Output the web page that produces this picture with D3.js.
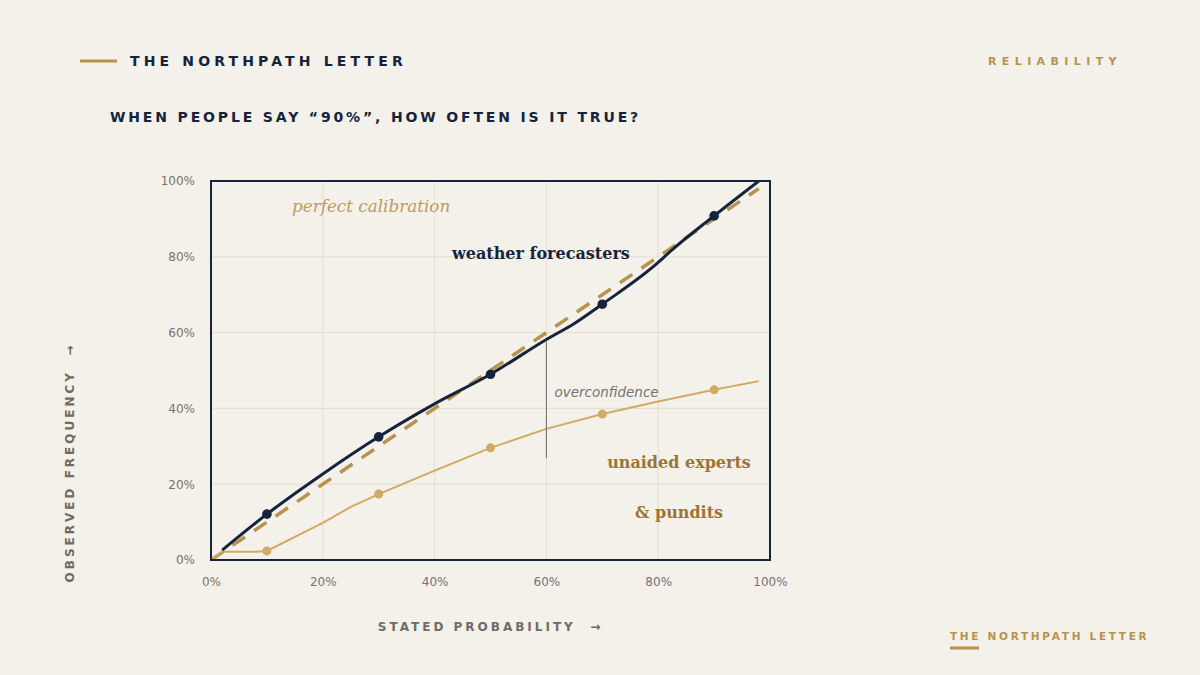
<!DOCTYPE html>
<html>
<head>
<meta charset="utf-8">
<script src="https://cdn.jsdelivr.net/npm/d3@7"></script>
<style>
  html, body { margin: 0; padding: 0; background: #f4f0ea; }
  svg { display: block; }
</style>
</head>
<body>
<svg id="chart"></svg>
<script>
const width = 1200;
const height = 675;

// stated probability (x) and observed frequency (y)
const weatherX = [0.02, 0.1, 0.2, 0.3, 0.37, 0.4, 0.5, 0.6, 0.65, 0.7, 0.8, 0.82, 0.9, 0.98];
const weatherY = [0.026, 0.121, 0.227, 0.325, 0.387, 0.412, 0.49, 0.582, 0.624, 0.675, 0.785, 0.812, 0.908, 1.0];
const expertsX = [0, 0.02, 0.08, 0.1, 0.2, 0.25, 0.3, 0.4, 0.5, 0.6, 0.7, 0.8, 0.9, 0.98];
const expertsY = [0, 0.022, 0.022, 0.024, 0.098, 0.14, 0.174, 0.236, 0.296, 0.346, 0.385, 0.418, 0.449, 0.472];
const markerX = [0.1, 0.3, 0.5, 0.7, 0.9];
const diagonal = [0, 0.98];
const ticks = [0, 0.2, 0.4, 0.6, 0.8, 1];
const gap = { x: 0.6, top: 0.576, bottom: 0.269 };

const margin = { top: 181, right: 430, bottom: 115, left: 211 };
const w = width - margin.left - margin.right;
const h = height - margin.top - margin.bottom;

const navy = '#15243c';
const gold = '#b8924f';
const sand = '#d2aa66';
const grey = '#777370';

const svg = d3.select('#chart')
    .attr('width', width)
    .attr('height', height);

svg.append('rect').attr('width', width).attr('height', height).attr('fill', '#f4f0ea');

// header
svg.append('line')
    .attr('x1', 80).attr('x2', 117).attr('y1', 61).attr('y2', 61)
    .attr('stroke', gold).attr('stroke-width', 3);
svg.append('text')
    .attr('x', 130).attr('y', 66)
    .attr('font-family', 'DejaVu Sans').attr('font-weight', 'bold')
    .attr('font-size', 14).attr('letter-spacing', 4.15)
    .attr('fill', navy)
    .text('THE NORTHPATH LETTER');
svg.append('text')
    .attr('x', 1122).attr('y', 65)
    .attr('text-anchor', 'end')
    .attr('font-family', 'DejaVu Sans').attr('font-weight', 'bold')
    .attr('font-size', 11).attr('letter-spacing', 5.4)
    .attr('fill', gold)
    .text('RELIABILITY');
svg.append('text')
    .attr('x', 110).attr('y', 122)
    .attr('font-family', 'DejaVu Sans').attr('font-weight', 'bold')
    .attr('font-size', 14).attr('letter-spacing', 2.85)
    .attr('fill', navy)
    .text('WHEN PEOPLE SAY \u201C90%\u201D, HOW OFTEN IS IT TRUE?');

// footer
svg.append('text')
    .attr('x', 950).attr('y', 640)
    .attr('font-family', 'DejaVu Sans').attr('font-weight', 'bold')
    .attr('font-size', 10.5).attr('letter-spacing', 2.7)
    .attr('fill', gold)
    .text('THE NORTHPATH LETTER');
svg.append('line')
    .attr('x1', 950).attr('x2', 979).attr('y1', 648).attr('y2', 648)
    .attr('stroke', gold).attr('stroke-width', 3);

const g = svg.append('g')
    .attr('transform', 'translate(' + margin.left + ',' + margin.top + ')');

const x = d3.scaleLinear().domain([0, 1]).range([0, w]);
const y = d3.scaleLinear().domain([0, 1]).range([h, 0]);

// grid
g.append('g').selectAll('line').data(ticks.slice(1, -1)).enter().append('line')
    .attr('x1', d => x(d)).attr('x2', d => x(d)).attr('y1', 0).attr('y2', h)
    .attr('stroke', '#e5ddcf').attr('stroke-width', 1);
g.append('g').selectAll('line').data(ticks.slice(1, -1)).enter().append('line')
    .attr('y1', d => y(d)).attr('y2', d => y(d)).attr('x1', 0).attr('x2', w)
    .attr('stroke', '#e5ddcf').attr('stroke-width', 1);

// axes (labels only)
const xAxis = g.append('g')
    .attr('transform', 'translate(0,' + h + ')')
    .call(d3.axisBottom(x).tickValues(ticks).tickFormat(d3.format('.0%')).tickSize(0).tickPadding(17));
const yAxis = g.append('g')
    .call(d3.axisLeft(y).tickValues(ticks).tickFormat(d3.format('.0%')).tickSize(0).tickPadding(16));
[xAxis, yAxis].forEach(a => {
    a.select('.domain').remove();
    a.selectAll('text')
        .attr('font-family', 'DejaVu Sans')
        .attr('font-size', 12)
        .attr('fill', grey);
});

g.append('text')
    .attr('x', x(0.5)).attr('y', h + 71)
    .attr('text-anchor', 'middle')
    .style('white-space', 'pre')
    .attr('font-family', 'DejaVu Sans').attr('font-weight', 'bold')
    .attr('font-size', 12).attr('letter-spacing', 3)
    .attr('fill', '#6e6b68')
    .text('STATED PROBABILITY  \u2192');
g.append('text')
    .attr('transform', 'translate(' + (-137) + ',' + (y(0.5) + 92) + ') rotate(-90)')
    .attr('text-anchor', 'middle')
    .style('white-space', 'pre')
    .attr('font-family', 'DejaVu Sans').attr('font-weight', 'bold')
    .attr('font-size', 12).attr('letter-spacing', 3)
    .attr('fill', '#6e6b68')
    .text('OBSERVED FREQUENCY  \u2192');

svg.append('clipPath').attr('id', 'plotclip')
    .append('rect').attr('x', 0).attr('y', 0).attr('width', w).attr('height', h);

const plot = g.append('g').attr('clip-path', 'url(#plotclip)');

// perfect calibration
plot.append('path')
    .datum(diagonal)
    .attr('d', d3.line().x(d => x(d)).y(d => y(d)))
    .attr('fill', 'none')
    .attr('stroke', gold)
    .attr('stroke-width', 3.5)
    .attr('stroke-dasharray', '15 11');

// overconfidence gap
g.append('line')
    .attr('x1', x(gap.x)).attr('x2', x(gap.x))
    .attr('y1', y(gap.top)).attr('y2', y(gap.bottom))
    .attr('stroke', '#6f6c69').attr('stroke-width', 1);

// unaided experts
const expertsPts = expertsX.map((d, i) => [d, expertsY[i]]);
plot.append('path')
    .datum(expertsPts)
    .attr('d', d3.line().x(d => x(d[0])).y(d => y(d[1])))
    .attr('fill', 'none')
    .attr('stroke', sand)
    .attr('stroke-width', 2);
plot.selectAll('.em').data(expertsPts.filter(d => markerX.includes(d[0]))).enter().append('circle')
    .attr('class', 'em')
    .attr('cx', d => x(d[0])).attr('cy', d => y(d[1])).attr('r', 4.5)
    .attr('fill', sand);

// weather forecasters
const weatherPts = weatherX.map((d, i) => [d, weatherY[i]]);
plot.append('path')
    .datum(weatherPts)
    .attr('d', d3.line().x(d => x(d[0])).y(d => y(d[1])).curve(d3.curveMonotoneX))
    .attr('fill', 'none')
    .attr('stroke', navy)
    .attr('stroke-width', 3);
plot.selectAll('.wm').data(weatherPts.filter(d => markerX.includes(d[0]))).enter().append('circle')
    .attr('class', 'wm')
    .attr('cx', d => x(d[0])).attr('cy', d => y(d[1])).attr('r', 4.8)
    .attr('fill', navy);

// frame
g.append('rect')
    .attr('x', 0).attr('y', 0).attr('width', w).attr('height', h)
    .attr('fill', 'none').attr('stroke', navy).attr('stroke-width', 2);

// annotations
g.append('text')
    .attr('x', 81).attr('y', 31)
    .attr('font-family', 'DejaVu Serif').attr('font-style', 'italic')
    .attr('font-size', 16.8)
    .attr('fill', '#bf9a5a')
    .text('perfect calibration');
g.append('text')
    .attr('x', 241).attr('y', 78)
    .attr('font-family', 'DejaVu Serif').attr('font-weight', 'bold')
    .attr('font-size', 16)
    .attr('fill', navy)
    .text('weather forecasters');
g.append('text')
    .attr('x', x(gap.x) + 8).attr('y', 216)
    .attr('font-family', 'DejaVu Sans').attr('font-style', 'italic')
    .attr('font-size', 13.5)
    .attr('fill', grey)
    .text('overconfidence');
g.append('text')
    .attr('x', 468).attr('y', 287)
    .attr('text-anchor', 'middle')
    .attr('font-family', 'DejaVu Serif').attr('font-weight', 'bold')
    .attr('font-size', 16)
    .attr('fill', '#9a7535')
    .text('unaided experts');
g.append('text')
    .attr('x', 468).attr('y', 337)
    .attr('text-anchor', 'middle')
    .attr('font-family', 'DejaVu Serif').attr('font-weight', 'bold')
    .attr('font-size', 16)
    .attr('fill', '#9a7535')
    .text('& pundits');
</script>
</body>
</html>
